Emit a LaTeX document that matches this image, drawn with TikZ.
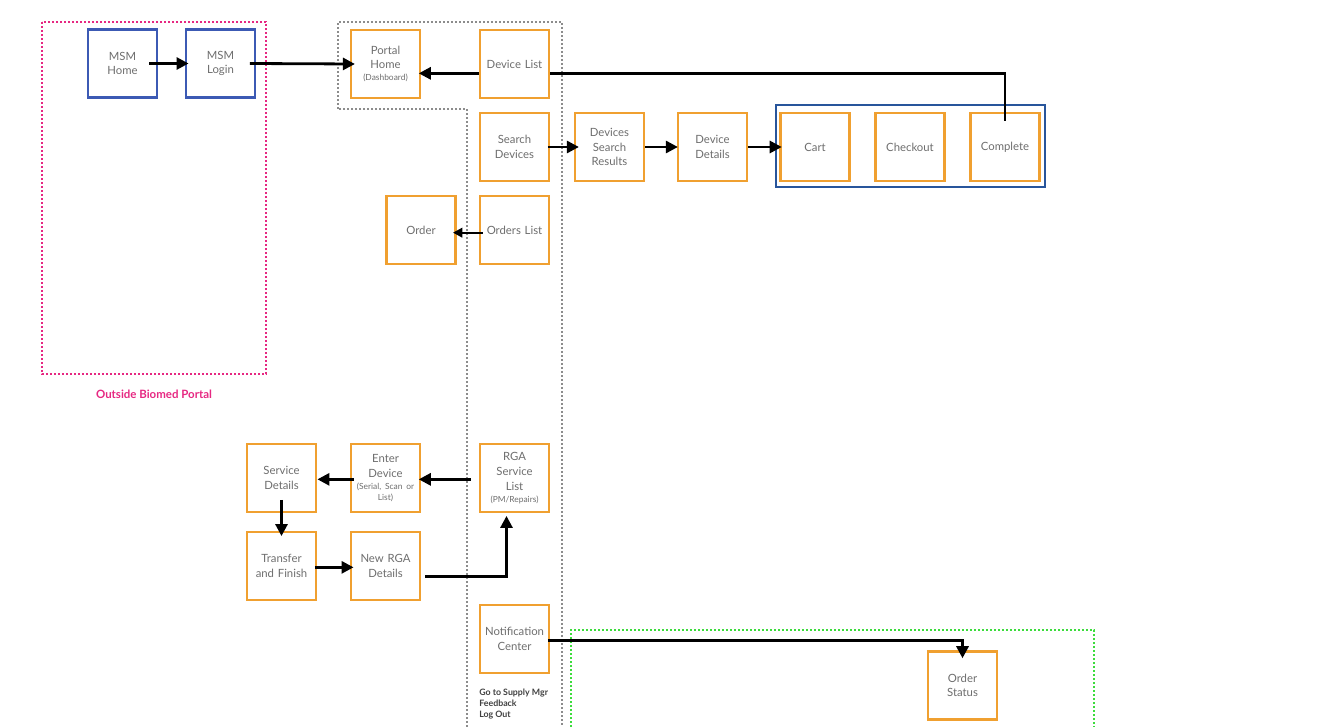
\documentclass[tikz,border=0pt]{standalone}
\usepackage{fontspec}
\setmainfont{Lato}
\usetikzlibrary{arrows.meta,shadows}
\definecolor{boxorange}{RGB}{240,160,48}
\definecolor{msmblue}{RGB}{60,90,180}
\definecolor{grpblue}{RGB}{40,85,155}
\definecolor{txtgray}{RGB}{110,110,110}
\definecolor{pinkc}{RGB}{230,40,130}
\definecolor{greenc}{RGB}{60,220,60}
\definecolor{dotgray}{RGB}{140,140,140}
\newcommand\subtxt{\fontsize{6.3}{7.5}\selectfont}
\tikzset{
  pagebox/.style={draw=boxorange, line width=1.9pt, fill=white, minimum width=51pt, minimum height=51pt,
    inner sep=1pt, align=center, text width=50pt, text=txtgray, font=\fontsize{8.5}{11}\selectfont,
    drop shadow={shadow xshift=0.6pt, shadow yshift=-1pt, opacity=0.25, fill=black}},
  msmbox/.style={pagebox, draw=msmblue},
  conn/.style={line width=2.1pt, black},
  arr/.style={conn, -{Triangle[length=9pt,width=9pt]}},
  dotline/.style={line width=1.5pt, dash pattern=on 1.4pt off 1.6pt}
}
\begin{document}
\begin{tikzpicture}[x=0.75pt,y=-0.75pt]
\useasboundingbox (0,0) rectangle (1321,727);
% group outlines
\draw[dotline, pinkc] (42,22) rectangle (266,374);
\node[text=pinkc, font=\bfseries\fontsize{8.6}{10}\selectfont] (outlbl) at (154,394) {Outside Biomed Portal};
\draw[dotline, dotgray, line width=1.3pt] (338,109) -- (338,22) -- (562,22) -- (562,727)
  (467,727) -- (467,109) -- (338,109);
\draw[dotline, greenc] (571,727) -- (571,630) -- (1094,630) -- (1094,727);
\draw[grpblue, line width=1.4pt] (776,105) rectangle (1045,187);

% nodes
\node[msmbox] (home) at (122.5,63.5) {MSM\\Home};
\node[msmbox] (login) at (220.5,63.5) {MSM\\Login};
\node[pagebox] (portal) at (385.5,64) {Portal\\Home\\[-2pt]{\subtxt (Dashboard)}};
\node[pagebox] (devlist) at (514.5,64) {Device List};
\node[pagebox] (search) at (514.5,147) {Search\\Devices};
\node[pagebox] (dsr) at (609.5,147) {Devices\\Search\\Results};
\node[pagebox] (details) at (712.5,147) {Device\\Details};
\node[pagebox] (cart) at (815,147) {Cart};
\node[pagebox] (checkout) at (910,147) {Checkout};
\node[pagebox] (complete) at (1005,147) {Complete};
\node[pagebox] (order) at (421,230) {Order};
\node[pagebox] (orders) at (514.5,230) {Orders List};
\node[pagebox] (svc) at (281.5,478) {Service\\Details};
\node[pagebox] (enter) at (385.5,478) {Enter\\Device\\[-2pt]{\subtxt (Serial, Scan or}\\[-3pt]{\subtxt List)}};
\node[pagebox] (rga) at (514.5,478) {RGA\\Service\\List\\[-2pt]{\subtxt (PM/Repairs)}};
\node[pagebox] (transfer) at (281.5,566) {Transfer\\and Finish};
\node[pagebox] (newrga) at (385.5,566) {New RGA\\Details};
\node[pagebox] (notif) at (514.5,639) {Notification\\Center};
\node[pagebox] (status) at (962.5,685.5) {Order\\Status};

\node[anchor=north west, align=left, text=black!75, font=\bfseries\fontsize{6.6}{8.3}\selectfont, inner sep=0pt] (menu) at (479,689) {Go to Supply Mgr\\Feedback\\Log Out};

% connectors
\draw[arr] ([xshift=-7pt]home.east) -- ([xshift=3pt]login.west);
\draw[arr] ([xshift=-5pt]login.east) -- ([xshift=4pt]portal.west);
\draw[arr] ([yshift=-7pt]devlist.west) -- ([xshift=-2pt,yshift=-7pt]portal.east);
\coordinate (cturn) at (complete.north |- devlist.east);
\draw[conn] ([yshift=-7pt]devlist.east) -- ([yshift=-7pt]cturn) -- ([yshift=-7pt]complete.north);
\draw[arr] ([xshift=-2pt]search.east) -- ([xshift=4pt]dsr.west);
\draw[arr] (dsr.east) -- ([xshift=1pt]details.west);
\draw[arr] (details.east) -- ([xshift=2pt]cart.west);
\draw[conn, line width=1.7pt, -{Triangle[length=7pt,width=7pt]}] ([xshift=3pt,yshift=-2pt]orders.west) -- ([xshift=-3pt,yshift=-2pt]order.east);
\draw[arr] ([xshift=-6pt,yshift=-1pt]rga.west) -- ([xshift=-2pt,yshift=-1pt]enter.east);
\draw[arr] ([xshift=3pt,yshift=-1pt]enter.west) -- ([yshift=-1pt]svc.east);
\draw[arr] ([yshift=10pt]svc.south) -- ([yshift=-4pt]transfer.north);
\draw[arr] ([xshift=-2pt,yshift=-1pt]transfer.east) -- ([xshift=3pt,yshift=-1pt]newrga.west);
\coordinate (rturn) at ([xshift=-6pt]rga.south |- newrga.east);
\draw[arr] ([xshift=3pt,yshift=-8pt]newrga.east) -- ([yshift=-8pt]rturn) -- ([xshift=-6pt,yshift=-2pt]rga.south);
\coordinate (nturn) at (status.north |- notif.east);
\draw[arr] ([xshift=-2pt,yshift=-1pt]notif.east) -- ([yshift=-1pt]nturn) -- ([yshift=-6pt]status.north);
\end{tikzpicture}
\end{document}
